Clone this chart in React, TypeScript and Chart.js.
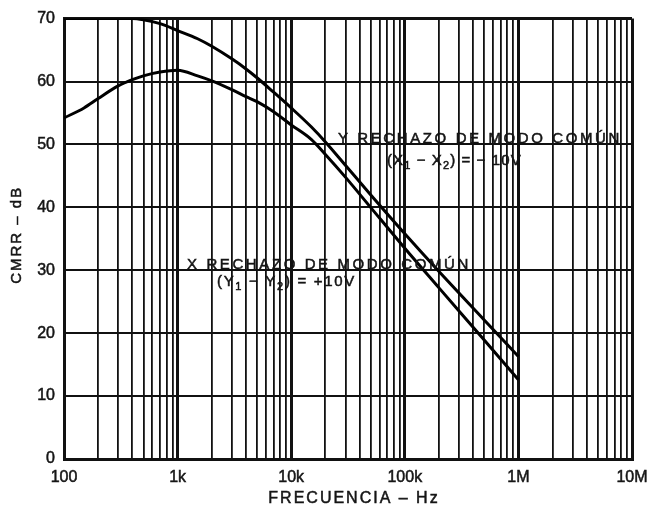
import React, { useEffect, useRef } from 'react';
import { Chart, registerables } from 'chart.js';

Chart.register(...registerables);

// Frequency samples (Hz)
const freqs = [100, 150, 200, 300, 400, 500, 700, 1000, 1500, 2000, 3000, 4000, 5000, 7000, 10000, 15000, 20000, 30000, 50000, 100000, 200000, 500000, 1000000];
// Y common-mode rejection, (X1 - X2) = -10V  (dB)
const yRejection = [70, 70, 70, 70, 70, 69.8, 69.2, 68.1, 66.8, 65.6, 63.6, 62.0, 60.6, 58.3, 55.8, 52.8, 50.4, 46.7, 42.0, 35.8, 29.8, 22.1, 16.3];
// X common-mode rejection, (Y1 - Y2) = +10V  (dB)
const xRejection = [54.2, 55.8, 57.3, 59.3, 60.3, 60.9, 61.5, 61.8, 60.9, 60.1, 58.7, 57.6, 56.8, 55.2, 53.1, 50.8, 48.4, 44.8, 40.0, 33.5, 27.2, 18.9, 12.6];

const decades = [100, 1000, 10000, 100000, 1000000, 10000000];
const decadeLabels = ['100', '1k', '10k', '100k', '1M', '10M'];
const multipliers = [1, 2, 3, 4, 5, 6, 7, 8, 9];

const yMin = 0;
const yMax = 70;
const yStep = 10;

const xTitle = 'FRECUENCIA – Hz';
const yTitle = 'CMRR – dB';

const FONT = 'Arial, "Liberation Sans", Helvetica, sans-serif';
const INK = '#151515';

type Part = { t: string; sub?: boolean };

const annotations: { parts: Part[]; fx: number; vy: number; size: number; ls: number }[] = [
  { parts: [{ t: 'Y RECHAZO DE MODO COMÚN' }], fx: 25800, vy: 50.2, size: 15, ls: 2.6 },
  { parts: [{ t: '(X' }, { t: '1', sub: true }, { t: ' − X' }, { t: '2', sub: true }, { t: ') = − 10V' }], fx: 69700, vy: 46.8, size: 15, ls: 1.1 },
  { parts: [{ t: 'X RECHAZO DE MODO COMÚN' }], fx: 1210, vy: 30.2, size: 15, ls: 2.6 },
  { parts: [{ t: '(Y' }, { t: '1', sub: true }, { t: ' − Y' }, { t: '2', sub: true }, { t: ') = +10V' }], fx: 2220, vy: 27.5, size: 15, ls: 1.7 },
];

function drawRich(ctx: CanvasRenderingContext2D, parts: Part[], x: number, y: number, size: number, ls: number) {
  let cx = x;
  for (const p of parts) {
    const fs = p.sub ? Math.round(size * 0.75) : size;
    ctx.font = `${fs}px ${FONT}`;
    (ctx as any).letterSpacing = `${ls}px`;
    const yy = p.sub ? y + size * 0.3 : y;
    ctx.fillText(p.t, cx, yy);
    ctx.strokeText(p.t, cx, yy);
    cx += ctx.measureText(p.t).width;
  }
}

const textPlugin = {
  id: 'textPlugin',
  afterDraw(chart: any) {
    const ctx: CanvasRenderingContext2D = chart.ctx;
    const xs = chart.scales.x;
    const ys = chart.scales.y;
    const area = chart.chartArea;
    ctx.save();
    ctx.fillStyle = INK;
    ctx.strokeStyle = INK;
    ctx.lineWidth = 0.5;
    ctx.textAlign = 'left';
    ctx.textBaseline = 'alphabetic';
    for (const a of annotations) {
      drawRich(ctx, a.parts, xs.getPixelForValue(a.fx), ys.getPixelForValue(a.vy), a.size, a.ls);
    }
    // axis titles
    ctx.font = `16px ${FONT}`;
    (ctx as any).letterSpacing = '2px';
    ctx.textAlign = 'center';
    const tx = (area.left + area.right) / 2 + 6;
    ctx.fillText(xTitle, tx, area.bottom + 44);
    ctx.strokeText(xTitle, tx, area.bottom + 44);
    ctx.font = `15px ${FONT}`;
    ctx.translate(21, (area.top + area.bottom) / 2 - 4);
    ctx.rotate(-Math.PI / 2);
    ctx.fillText(yTitle, 0, 0);
    ctx.strokeText(yTitle, 0, 0);
    ctx.restore();
  },
};

const xGrid: number[] = [];
decades.forEach((d, i) => {
  if (i < decades.length - 1) multipliers.forEach((m) => xGrid.push(d * m));
  else xGrid.push(d);
});

export default function App() {
  const ref = useRef<HTMLCanvasElement | null>(null);
  useEffect(() => {
    if (!ref.current) return;
    const chart = new Chart(ref.current, {
      type: 'line',
      data: {
        datasets: [
          {
            label: 'Y rechazo de modo común',
            data: freqs.map((f, i) => ({ x: f, y: yRejection[i] })),
            borderColor: '#000',
            borderWidth: 3,
            pointRadius: 0,
            cubicInterpolationMode: 'monotone',
            fill: false,
          },
          {
            label: 'X rechazo de modo común',
            data: freqs.map((f, i) => ({ x: f, y: xRejection[i] })),
            borderColor: '#000',
            borderWidth: 3,
            pointRadius: 0,
            cubicInterpolationMode: 'monotone',
            fill: false,
          },
        ],
      },
      options: {
        animation: false,
        responsive: false,
        layout: { padding: { top: 16, right: 21, left: 0, bottom: 0 } },
        plugins: { legend: { display: false }, tooltip: { enabled: false } },
        scales: {
          x: {
            type: 'logarithmic',
            min: decades[0],
            max: decades[decades.length - 1],
            afterBuildTicks: (s: any) => {
              s.ticks = xGrid.map((v) => ({ value: v }));
            },
            afterFit: (s: any) => {
              s.height = 52;
              s.paddingLeft = 0;
              s.paddingRight = 0;
            },
            ticks: {
              autoSkip: false,
              maxRotation: 0,
              padding: 9,
              color: INK,
              textStrokeColor: INK,
              textStrokeWidth: 0.5,
              font: { family: FONT, size: 16 },
              callback: (v: any) => {
                const i = decades.indexOf(Number(v));
                return i >= 0 ? decadeLabels[i] : '';
              },
            },
            grid: {
              color: '#111',
              lineWidth: (c: any) => (decades.includes(c.tick?.value) ? 3 : 1.8),
              drawTicks: false,
            },
            border: { display: true, color: '#111', width: 3 },
          },
          y: {
            min: yMin,
            max: yMax,
            afterFit: (s: any) => {
              s.width = 64;
            },
            ticks: {
              stepSize: yStep,
              padding: 9,
              color: INK,
              textStrokeColor: INK,
              textStrokeWidth: 0.5,
              font: { family: FONT, size: 16 },
            },
            grid: {
              color: '#111',
              lineWidth: (c: any) => (c.tick?.value === yMax ? 3 : 2),
              drawTicks: false,
            },
            border: { display: true, color: '#111', width: 3 },
          },
        },
      },
      plugins: [textPlugin],
    } as any);
    return () => chart.destroy();
  }, []);
  return (
    <div style={{ position: 'fixed', left: 0, top: 0, width: 653, height: 511, background: '#fff' }}>
      <canvas ref={ref} width={653} height={511} style={{ display: 'block', width: 653, height: 511 }} />
    </div>
  );
}
